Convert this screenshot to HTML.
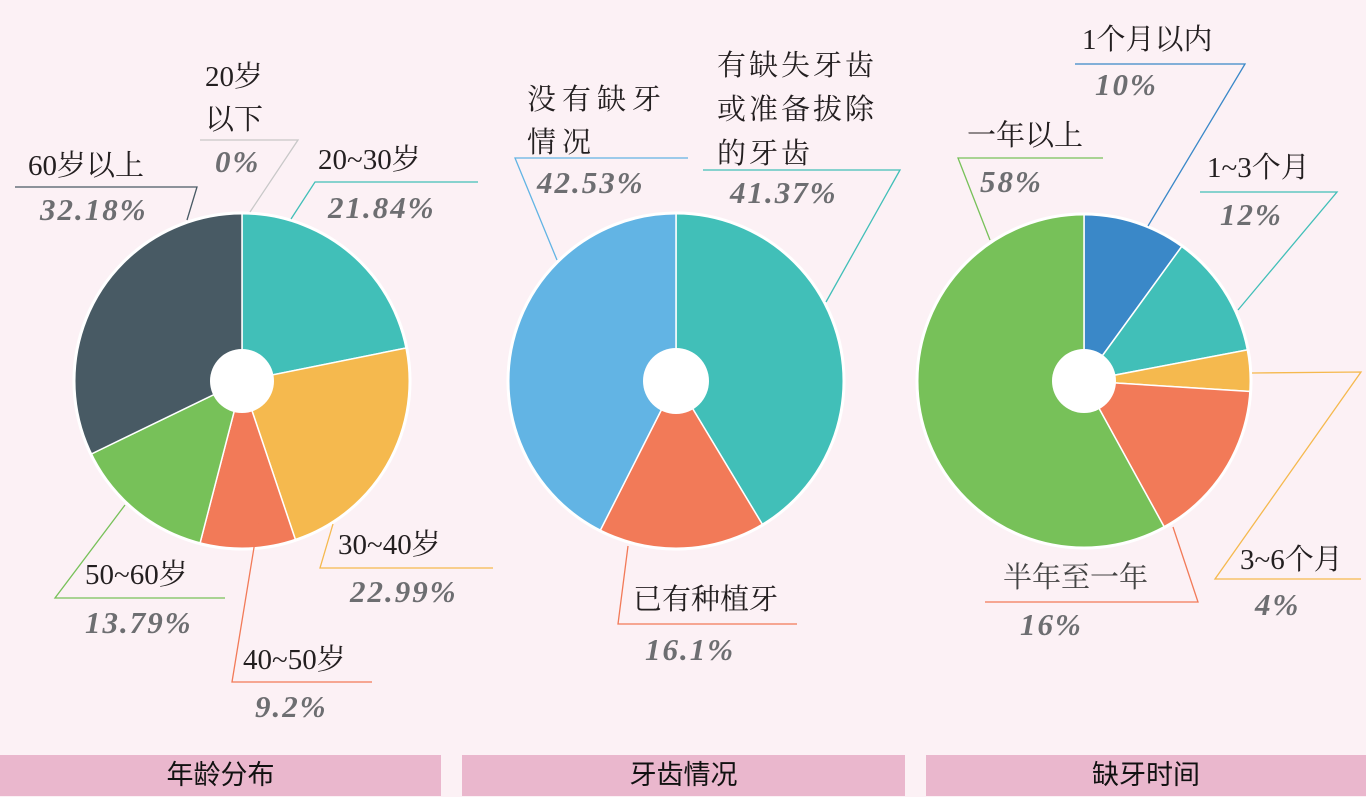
<!DOCTYPE html>
<html><head><meta charset="utf-8">
<style>
body{margin:0;width:1366px;height:797px;background:#fcf1f5;overflow:hidden;position:relative;font-family:"Liberation Serif","Noto Serif CJK SC",serif}
.t{position:absolute;font-size:29px;color:#231f20;line-height:1;white-space:nowrap}
.p{position:absolute;font-size:31px;color:#6d6e71;font-weight:bold;font-style:italic;letter-spacing:2px;line-height:1;white-space:nowrap}
.bar{position:absolute;top:755px;height:41px;background:#eab7cd;font-family:"Liberation Sans","Noto Sans CJK SC",sans-serif;font-size:27px;color:#111;text-align:center;line-height:41px}
</style></head><body>
<svg id="chart" width="1366" height="797" style="position:absolute;left:0;top:0">
<g id="lines" fill="none" stroke-width="1.3">
<polyline points="15,187 197,187 187,220" stroke="#485a64"/>
<polyline points="200,140 298,140 250,212" stroke="#c8c8c8"/>
<polyline points="478,182 315,182 291,219" stroke="#41bfb8"/>
<polyline points="493,568 320,568 333,524" stroke="#f5b94e"/>
<polyline points="372,682 232,682 258,523" stroke="#f27a58"/>
<polyline points="225,598 55,598 125,505" stroke="#77c159"/>
<polyline points="688,158 515,158 557,260" stroke="#62b4e4"/>
<polyline points="703,170 900,170 826,302" stroke="#41bfb8"/>
<polyline points="797,624 618,624 628,546" stroke="#f27a58"/>
<polyline points="1075,64 1245,64 1148,226" stroke="#3a88c8"/>
<polyline points="1103,158 958,158 990,240" stroke="#77c159"/>
<polyline points="1200,192 1337,192 1238,310" stroke="#41bfb8"/>
<polyline points="1252,373 1361,372 1215,579 1361,579" stroke="#f5b94e"/>
<polyline points="1173,527 1198,602 985,602" stroke="#f27a58"/>
</g>
</svg>
<div class="t" style="left:28px;top:152px">60岁以上</div>
<div class="p" style="left:40px;top:194px">32.18%</div>
<div class="t" style="left:205px;top:56px;line-height:43px;white-space:normal;width:70px">20岁<br>以下</div>
<div class="p" style="left:215px;top:146px">0%</div>
<div class="t" style="left:318px;top:146px">20~30岁</div>
<div class="p" style="left:328px;top:192px">21.84%</div>
<div class="t" style="left:338px;top:531px">30~40岁</div>
<div class="p" style="left:350px;top:576px">22.99%</div>
<div class="t" style="left:243px;top:646px">40~50岁</div>
<div class="p" style="left:255px;top:691px">9.2%</div>
<div class="t" style="left:85px;top:561px">50~60岁</div>
<div class="p" style="left:85px;top:607px">13.79%</div>
<div class="t" style="left:527px;top:79px;line-height:43px;letter-spacing:6px">没有缺牙<br>情况</div>
<div class="p" style="left:537px;top:167px">42.53%</div>
<div class="t" style="left:717px;top:44px;line-height:44px;letter-spacing:3px">有缺失牙齿<br>或准备拔除<br>的牙齿</div>
<div class="p" style="left:730px;top:177px">41.37%</div>
<div class="t" style="left:633px;top:586px">已有种植牙</div>
<div class="p" style="left:645px;top:634px">16.1%</div>
<div class="t" style="left:1082px;top:26px">1个月以内</div>
<div class="p" style="left:1095px;top:69px">10%</div>
<div class="t" style="left:967px;top:122px">一年以上</div>
<div class="p" style="left:980px;top:166px">58%</div>
<div class="t" style="left:1207px;top:154px">1~3个月</div>
<div class="p" style="left:1220px;top:199px">12%</div>
<div class="t" style="left:1240px;top:546px">3~6个月</div>
<div class="p" style="left:1255px;top:589px">4%</div>
<div class="t" style="left:1003px;top:564px;color:#444">半年至一年</div>
<div class="p" style="left:1020px;top:609px">16%</div>
<div class="bar" style="left:0;width:441px">年龄分布</div>
<div class="bar" style="left:462px;width:443px">牙齿情况</div>
<div class="bar" style="left:926px;width:440px">缺牙时间</div>
<script>
const ageValues=[21.84,22.99,9.2,13.79,32.18];
const ageColors=["#41bfb8","#f5b94e","#f27a58","#77c159","#485a64"];
const ageNames=["slice-20-30","slice-30-40","slice-40-50","slice-50-60","slice-60plus"];
const teethValues=[41.37,16.1,42.53];
const teethColors=["#41bfb8","#f27a58","#62b4e4"];
const teethNames=["slice-missing","slice-implant","slice-no-missing"];
const timeValues=[10,12,4,16,58];
const timeColors=["#3a88c8","#41bfb8","#f5b94e","#f27a58","#77c159"];
const timeNames=["slice-1month","slice-1-3month","slice-3-6month","slice-half-year","slice-over1year"];
const svg=document.getElementById('chart');
const NS="http://www.w3.org/2000/svg";
function pie(cx,cy,r,hole,vals,cols,names){
  const g=document.createElementNS(NS,'g');
  svg.insertBefore(g,svg.firstChild);
  const total=vals.reduce((a,b)=>a+b,0);
  let a=-Math.PI/2;
  vals.forEach((v,i)=>{
    const da=v/total*Math.PI*2;
    const a2=a+da;
    const x1=cx+r*Math.cos(a),y1=cy+r*Math.sin(a),x2=cx+r*Math.cos(a2),y2=cy+r*Math.sin(a2);
    const p=document.createElementNS(NS,'path');
    p.setAttribute('d',`M${cx},${cy}L${x1},${y1}A${r},${r} 0 ${da>Math.PI?1:0} 1 ${x2},${y2}Z`);
    p.setAttribute('fill',cols[i]);
    p.setAttribute('stroke','#fff');
    p.setAttribute('stroke-width','1.5');
    
    
    g.appendChild(p);
    a=a2;
  });
  const ring=document.createElementNS(NS,'circle');
  ring.setAttribute('cx',cx);ring.setAttribute('cy',cy);ring.setAttribute('r',r);
  ring.setAttribute('fill','none');ring.setAttribute('stroke','#fff');ring.setAttribute('stroke-width','3');
  
  
  g.appendChild(ring);
  const c=document.createElementNS(NS,'circle');
  c.setAttribute('cx',cx);c.setAttribute('cy',cy);c.setAttribute('r',hole);c.setAttribute('fill','#fff');
  
  
  g.appendChild(c);
}
pie(242,381,168,32,ageValues,ageColors,ageNames);
pie(676,381,168,33,teethValues,teethColors,teethNames);
pie(1084,381,167,32,timeValues,timeColors,timeNames);
</script>
</body></html>
